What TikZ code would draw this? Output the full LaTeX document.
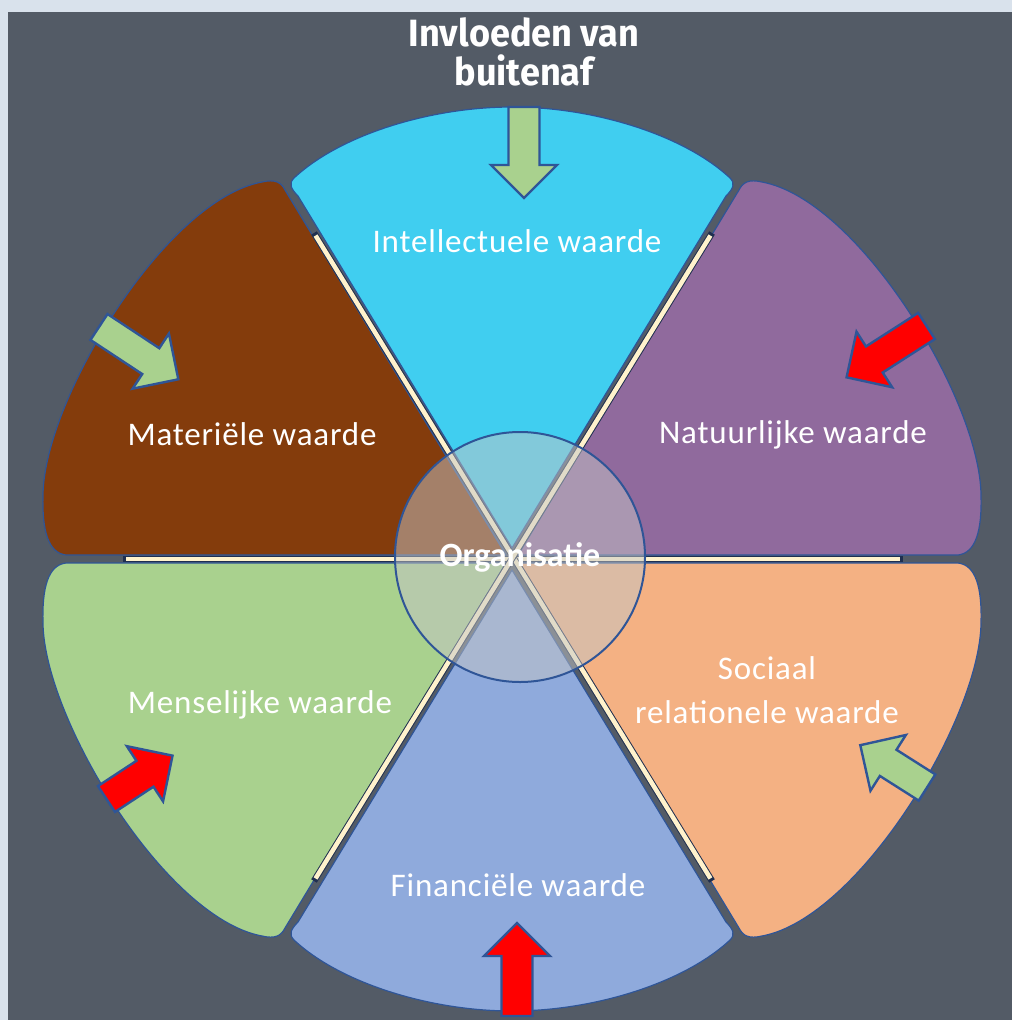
\documentclass[tikz,border=0pt]{standalone}
\usepackage{fontspec}
\setmainfont{Carlito}
\newfontfamily\labelfont{Carlito}[LetterSpace=2.5]
\newfontfamily\titlefont{Fira Sans}[FakeStretch=0.95]
\usetikzlibrary{calc}

\definecolor{slate}{HTML}{535B66}
\definecolor{frame}{HTML}{D9E2EC}
\definecolor{navy}{HTML}{2F5597}
\definecolor{capnavy}{HTML}{1F2F50}
\definecolor{cream}{HTML}{FFF2CC}
\definecolor{cyanpetal}{HTML}{40CEF0}
\definecolor{purplepetal}{HTML}{906A9D}
\definecolor{brownpetal}{HTML}{843C0C}
\definecolor{greenpetal}{HTML}{A9D18E}
\definecolor{orangepetal}{HTML}{F4B183}
\definecolor{bluepetal}{HTML}{8FAADC}
\definecolor{arrowgreen}{HTML}{A9D18E}
\definecolor{arrowred}{HTML}{FF0000}
\definecolor{hubgray}{HTML}{C4C5C6}

% petal outlines (pixel units, y downwards)
\newcommand\SidePetal{(506,555) -- (66,555) .. controls (48,553) and (42,530) .. (43,495)
  .. controls (44,400) and (165,200) .. (262,182) .. controls (275,179) and (281,182) .. (285,190) -- cycle}
\newcommand\TopPetal{(512,548) -- (298,196) .. controls (290,188) and (289,183) .. (294,178)
  .. controls (340,135) and (430,107) .. (512,107) .. controls (594,107) and (684,135) .. (730,178)
  .. controls (735,183) and (734,188) .. (726,196) -- cycle}

% block arrow: fill colour, tail point, direction angle, length
\newcommand\BlockArr[4]{%
  \draw[arrowline, fill=#1, shift={#2}, rotate=#3]
    (0,-15.5) -- ({#4-33},-15.5) -- ({#4-33},-33) -- (#4,0)
    -- ({#4-33},33) -- ({#4-33},15.5) -- (0,15.5) -- cycle;}

\begin{document}
\begin{tikzpicture}[x=1pt, y=-1pt,
  petal/.style={draw=navy, line width=1.2pt, line join=round},
  arrowline/.style={draw=navy, line width=2.4pt, line join=miter},
  lbl/.style={text=white, font=\labelfont\fontsize{33}{44}\selectfont, anchor=base, inner sep=0pt},
  spokeout/.style={capnavy, line width=6.5pt},
  spokein/.style={cream, line width=4.5pt, shorten >=3pt, shorten <=3pt},
  hub/.style={circle, draw=navy, line width=2pt, fill=hubgray, fill opacity=0.5, text opacity=1,
    minimum size=250pt, inner sep=0pt, text=white, font=\bfseries\fontsize{34}{36}\selectfont},
  title/.style={text=white, font=\titlefont\bfseries\fontsize{38}{39}\selectfont, align=center, anchor=base, inner sep=0pt}]

% backdrop
\fill[frame] (0,0) rectangle (1012,1020);
\fill[slate] (8,12) rectangle (1012,1020);
\useasboundingbox (0,0) rectangle (1012,1020);

% six petals
\fill[cyanpetal, petal] \TopPetal;
\begin{scope}[shift={(0,1118)}, yscale=-1]
  \fill[bluepetal, petal] \TopPetal;
  \fill[greenpetal, petal] \SidePetal;
\end{scope}
\fill[brownpetal, petal] \SidePetal;
\begin{scope}[shift={(1024,0)}, xscale=-1]
  \fill[purplepetal, petal] \SidePetal;
  \begin{scope}[shift={(0,1118)}, yscale=-1]
    \fill[orangepetal, petal] \SidePetal;
  \end{scope}
\end{scope}

% spokes between the petals
\coordinate (hl) at (123,559);
\coordinate (hr) at (903,559);
\coordinate (dtl) at (314,233);
\coordinate (dbr) at (712,881);
\coordinate (dtr) at (712,233);
\coordinate (dbl) at (314,881);
\foreach \a/\b in {hl/hr, dtl/dbr, dtr/dbl}{
  \draw[spokeout] (\a) -- (\b);
  \draw[spokein] (\a) -- (\b);
}

% influence arrows
\BlockArr{arrowgreen}{(524,107)}{-90}{91}
\BlockArr{arrowred}{(517,1016)}{90}{93}
\BlockArr{arrowgreen}{(99,327)}{-33.4}{95}
\BlockArr{arrowred}{(926.5,326)}{-147.3}{95}
\BlockArr{arrowred}{(106.5,799)}{33.3}{79}
\BlockArr{arrowgreen}{(927,787.5)}{147.6}{79}

% labels
\node[lbl] (intel) at (517,252) {Intellectuele waarde};
\node[lbl] (mater) at (252,445) {Materiële waarde};
\node[lbl] (natuur) at (793,443) {Natuurlijke waarde};
\node[lbl] (mens) at (260,713) {Menselijke waarde};
\node[text=white, font=\labelfont\fontsize{33}{44}\selectfont, align=center, inner sep=0pt] (sociaal) at (767,690) {Sociaal\\relationele waarde};
\node[lbl] (fin) at (518,896) {Financiële waarde};

% heading; base anchor sits on the second line
\node[title] (titel) at (524,85) {Invloeden van\\buitenaf};

% central hub
\node[hub] (org) at (520,557) {Organisatie};
\end{tikzpicture}
\end{document}
